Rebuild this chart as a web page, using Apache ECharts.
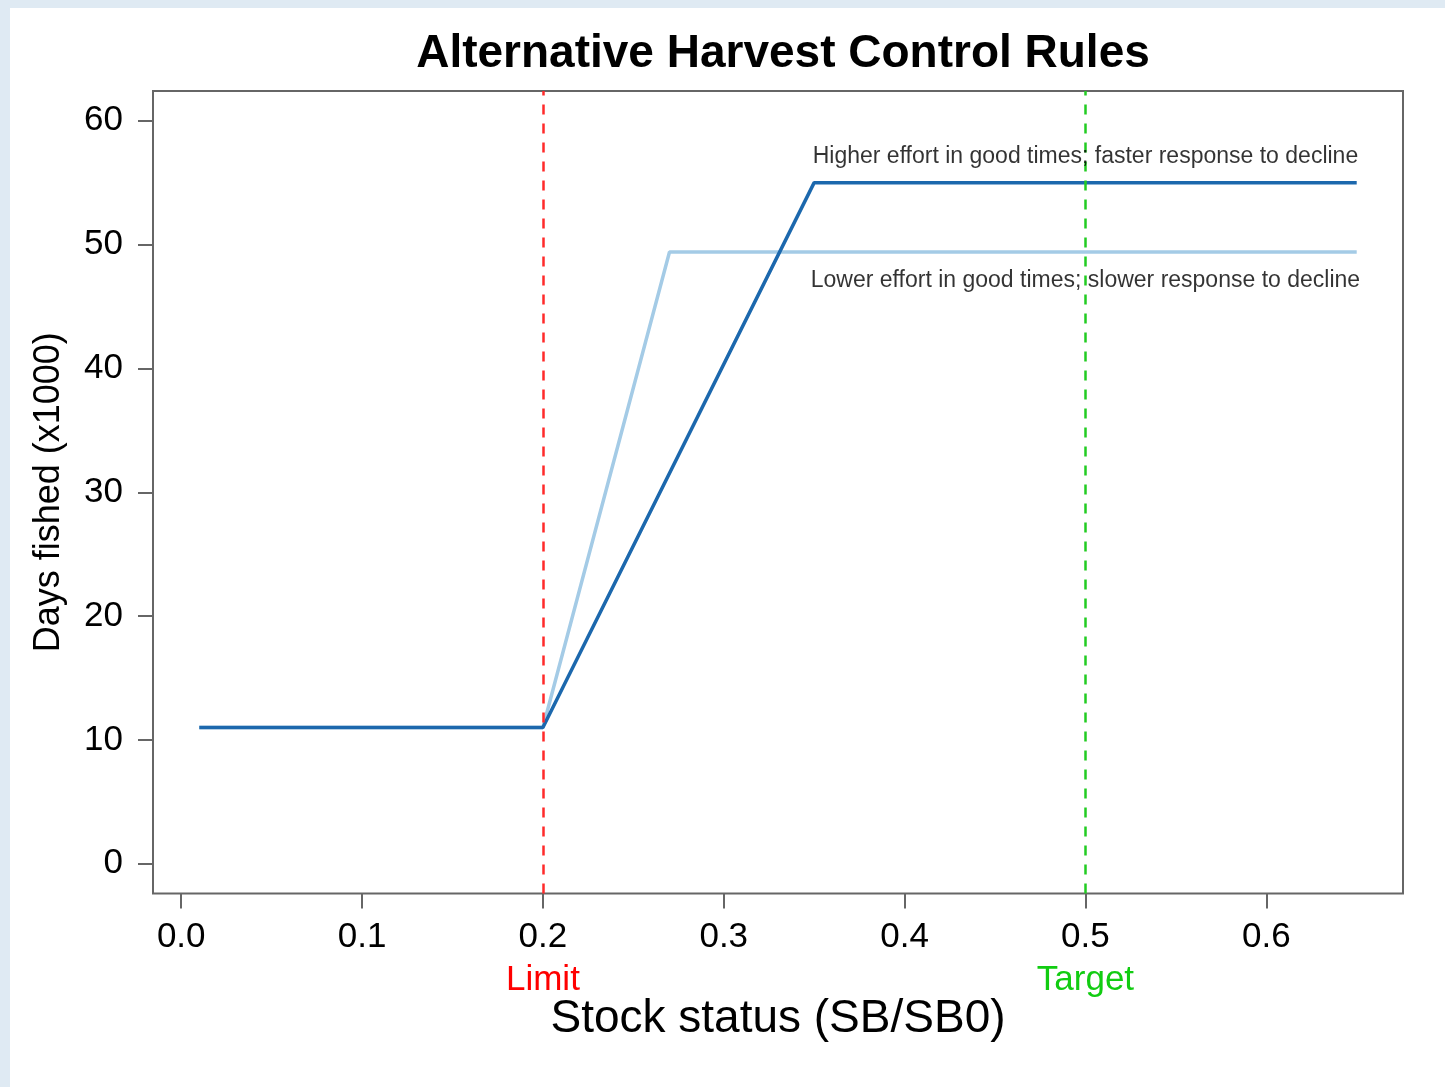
<!DOCTYPE html>
<html>
<head>
<meta charset="utf-8">
<title>Alternative Harvest Control Rules</title>
<script src="https://cdn.jsdelivr.net/npm/echarts@6/dist/echarts.min.js"></script>
<style>
  html, body { margin: 0; padding: 0; background: #dfeaf3; }
  #chart { width: 1445px; height: 1087px; }
</style>
</head>
<body>
<div id="chart"></div>
<script>
// harvest control rules: stock status (SB/SB0) vs days fished (x1000)
const higherEffort = [[0.01, 11], [0.2, 11], [0.35, 55], [0.65, 55]]
const lowerEffort = [[0.01, 11], [0.2, 11], [0.27, 49.4], [0.65, 49.4]]
const refPoints = [
  { name: 'Limit', x: 0.2, color: '#ff2a2a', labelColor: '#ff0000' },
  { name: 'Target', x: 0.5, color: '#22cc22', labelColor: '#11cc11' }
]
const notes = [
  { text: 'Higher effort in good times; faster response to decline', x: 0.5, y: 57.1 },
  { text: 'Lower effort in good times; slower response to decline', x: 0.5, y: 47.1 }
]
const xTicks = [0, 0.1, 0.2, 0.3, 0.4, 0.5, 0.6]
const yTicks = [0, 10, 20, 30, 40, 50, 60]

const font = "'Liberation Sans', Arial, sans-serif"
const chart = echarts.init(document.getElementById('chart'))

chart.setOption({
  backgroundColor: 'transparent',
  animation: false,
  graphic: [{
    type: 'rect',
    left: 10,
    top: 8,
    shape: { width: 1435, height: 1079 },
    style: { fill: '#ffffff' },
    z: -10
  }],
  title: {
    text: 'Alternative Harvest Control Rules',
    left: 778,
    textAlign: 'center',
    top: 26,
    textStyle: { fontFamily: font, fontSize: 46, fontWeight: 'bold', color: '#000' }
  },
  grid: {
    left: 153,
    top: 91,
    right: 42,
    bottom: 193.5,
    show: true,
    borderColor: '#666',
    borderWidth: 2,
    backgroundColor: 'transparent'
  },
  xAxis: {
    type: 'value',
    min: -0.0156,
    max: 0.6756,
    splitLine: { show: false },
    axisLine: { show: false, onZero: false },
    axisTick: {
      show: true,
      customValues: xTicks,
      length: 15,
      lineStyle: { color: '#666', width: 2 }
    },
    axisLabel: {
      customValues: xTicks,
      margin: 26,
      fontFamily: font,
      fontSize: 35,
      color: '#000',
      formatter: v => v.toFixed(1)
    },
    name: 'Stock status (SB/SB0)',
    nameLocation: 'middle',
    nameGap: 103,
    nameTextStyle: { fontFamily: font, fontSize: 46, color: '#000' }
  },
  yAxis: {
    type: 'value',
    min: -2.4,
    max: 62.4,
    splitLine: { show: false },
    axisLine: { show: false, onZero: false },
    axisTick: {
      show: true,
      customValues: yTicks,
      length: 15,
      lineStyle: { color: '#666', width: 2 }
    },
    axisLabel: {
      customValues: yTicks,
      margin: 30,
      fontFamily: font,
      fontSize: 35,
      color: '#000'
    },
    name: 'Days fished (x1000)',
    nameLocation: 'middle',
    nameGap: 86,
    nameTextStyle: { fontFamily: font, fontSize: 36, color: '#000' }
  },
  series: [
    {
      name: 'Lower effort',
      type: 'line',
      data: lowerEffort,
      symbol: 'none',
      lineStyle: { color: '#a4cbe6', width: 3.5 },
      z: 2
    },
    {
      name: 'Higher effort',
      type: 'line',
      data: higherEffort,
      symbol: 'none',
      lineStyle: { color: '#1c68ad', width: 3.5 },
      z: 3,
      markLine: {
        silent: true,
        symbol: 'none',
        data: refPoints.map(p => ({
          xAxis: p.x,
          lineStyle: { color: p.color, type: [10, 9], width: 2.5 },
          label: {
            show: true,
            position: 'start',
            distance: 69,
            formatter: p.name,
            fontFamily: font,
            fontSize: 35,
            color: p.labelColor
          }
        }))
      }
    },
    {
      name: 'notes',
      type: 'scatter',
      data: notes.map(n => ({ value: [n.x, n.y], label: { formatter: n.text } })),
      symbolSize: 0,
      z: 5,
      label: {
        show: true,
        position: 'inside',
        fontFamily: font,
        fontSize: 23,
        color: '#000',
        textBorderWidth: 0
      }
    }
  ]
})
</script>
</body>
</html>
